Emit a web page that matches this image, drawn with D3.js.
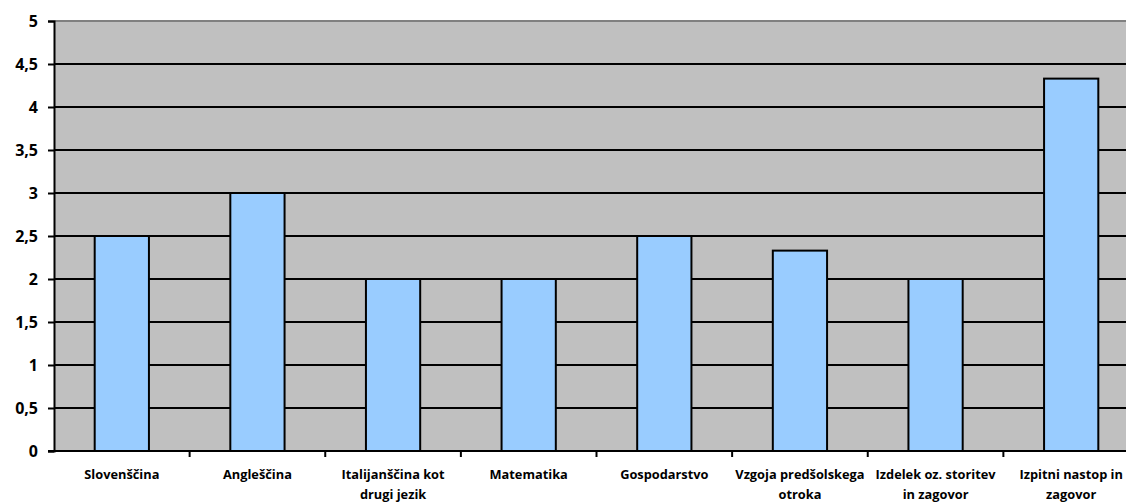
<!DOCTYPE html>
<html>
<head>
  <meta charset="UTF-8">
  <style>
    body { margin: 0; background: #fff; }
    text { font-family: "Open Sans", "DejaVu Sans", sans-serif; font-weight: 700; }
  </style>
</head>
<body>
<div id="chart_div"></div>

<script src="https://d3js.org/d3.v7.min.js"></script>
<script>

let width = 1126, height = 504;

// data
const subjects = ["Slovenščina", "Angleščina", "Italijanščina kot drugi jezik", "Matematika",
  "Gospodarstvo", "Vzgoja predšolskega otroka", "Izdelek oz. storitev in zagovor", "Izpitni nastop in zagovor"];
const labelLines = [["Slovenščina"], ["Angleščina"], ["Italijanščina kot", "drugi jezik"], ["Matematika"],
  ["Gospodarstvo"], ["Vzgoja predšolskega", "otroka"], ["Izdelek oz. storitev", "in zagovor"], ["Izpitni nastop in", "zagovor"]];
const grades = [2.5, 3, 2, 2, 2.5, 2.33, 2, 4.33];
const yTicks = [0, 0.5, 1, 1.5, 2, 2.5, 3, 3.5, 4, 4.5, 5];

// plot area (runs a bit past the right edge, like the original)
const plotLeft = 54, plotTop = 21, plotBottom = 451, plotRight = 1139;

const svg = d3.select("#chart_div")
  .append("svg")
    .attr("width", width)
    .attr("height", height);

const x = d3.scaleBand()
  .domain(subjects)
  .range([plotLeft, plotRight])
  .paddingInner(0.6)
  .paddingOuter(0.3);

const y = d3.scaleLinear()
  .domain([0, 5])
  .range([plotBottom, plotTop]);

// grey background
svg.append("rect")
  .attr("x", plotLeft)
  .attr("y", plotTop)
  .attr("width", plotRight - plotLeft)
  .attr("height", plotBottom - plotTop)
  .attr("fill", "#c0c0c0");

// top border
svg.append("line")
  .attr("x1", plotLeft).attr("x2", plotRight)
  .attr("y1", plotTop).attr("y2", plotTop)
  .attr("stroke", "#808080")
  .attr("stroke-width", 2);

// gridlines
svg.append("g")
  .selectAll("line")
  .data(yTicks.filter(d => d > 0 && d < 5))
  .join("line")
    .attr("x1", plotLeft).attr("x2", plotRight)
    .attr("y1", d => y(d)).attr("y2", d => y(d))
    .attr("stroke", "#000")
    .attr("stroke-width", 2);

// bars
svg.append("g")
  .selectAll("rect")
  .data(grades)
  .join("rect")
    .attr("x", (d, i) => x(subjects[i]))
    .attr("y", d => y(d))
    .attr("width", x.bandwidth())
    .attr("height", d => y(0) - y(d))
    .attr("fill", "#99ccff")
    .attr("stroke", "#000")
    .attr("stroke-width", 2);

// y axis
const yAxis = d3.axisLeft(y)
  .tickValues(yTicks)
  .tickSize(6)
  .tickPadding(10)
  .tickFormat(d => String(d).replace(".", ","));

const yg = svg.append("g")
  .attr("transform", `translate(${plotLeft},0)`)
  .call(yAxis);
yg.select(".domain").attr("stroke", "#000").attr("stroke-width", 2);
yg.selectAll(".tick line").attr("stroke", "#000").attr("stroke-width", 2);
yg.selectAll(".tick text")
  .attr("fill", "#000")
  .style("font-size", "16px")
  .style("font-family", "'Open Sans', sans-serif")
  .style("font-weight", "700");

// x axis line and ticks between categories
svg.append("line")
  .attr("x1", plotLeft - 6).attr("x2", plotRight)
  .attr("y1", plotBottom).attr("y2", plotBottom)
  .attr("stroke", "#000")
  .attr("stroke-width", 2);

const step = x.step();
svg.append("g")
  .selectAll("line")
  .data(subjects)
  .join("line")
    .attr("x1", d => x(d) + x.bandwidth() / 2 + step / 2)
    .attr("x2", d => x(d) + x.bandwidth() / 2 + step / 2)
    .attr("y1", plotBottom).attr("y2", plotBottom + 6)
    .attr("stroke", "#000")
    .attr("stroke-width", 2);

// category labels
svg.append("g")
  .selectAll("text")
  .data(subjects)
  .join("text")
    .attr("x", d => x(d) + x.bandwidth() / 2)
    .attr("y", 479)
    .attr("text-anchor", "middle")
    .style("font-size", "12.8px")
    .attr("fill", "#000")
    .selectAll("tspan")
    .data((d, i) => labelLines[i])
    .join("tspan")
      .attr("x", function() { return d3.select(this.parentNode).attr("x"); })
      .attr("dy", (d, j) => j === 0 ? 0 : 20)
      .text(d => d);

</script>
</body>
</html>
